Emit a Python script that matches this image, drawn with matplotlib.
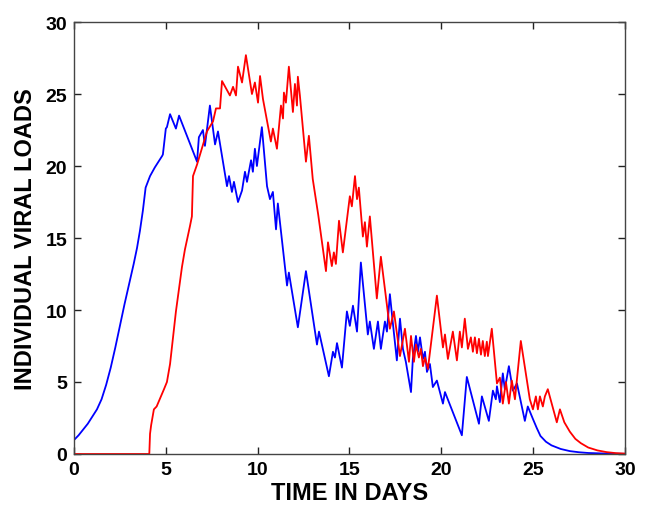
import matplotlib
matplotlib.use("Agg")
import matplotlib.pyplot as plt

# individual viral loads (days, load)
blue_t = [0.0, 0.25, 0.5, 0.75, 1.0, 1.25, 1.5, 1.75, 2.0, 2.25, 2.5, 2.75, 3.0, 3.25,
          3.43, 3.59, 3.75, 3.9, 4.14, 4.4, 4.8,
          4.84, 5.0, 5.06, 5.23, 5.55, 5.72, 6.70, 6.80, 7.02, 7.13, 7.40, 7.68, 7.84,
          8.33, 8.44, 8.60, 8.71, 8.93, 9.15, 9.31, 9.42, 9.64, 9.74, 9.85, 9.96,
          10.23, 10.51, 10.67, 10.83, 11.0, 11.1, 11.6, 11.7, 12.19, 12.63, 13.23,
          13.34, 13.88, 14.1, 14.21, 14.32, 14.59, 14.86, 15.02, 15.19, 15.41, 15.62,
          16.0, 16.11, 16.33, 16.55, 16.71, 16.93, 17.04, 17.2, 17.37, 17.58, 17.75,
          17.91, 18.07, 18.35, 18.45, 18.62, 18.73, 18.84, 19.0, 19.11, 19.22, 19.38,
          19.54, 19.76, 20.09, 20.2, 21.12, 21.39, 22.05, 22.21, 22.59, 22.81, 22.97,
          23.03, 23.19, 23.35, 23.46, 23.68, 23.9, 24.12, 24.55, 24.71, 25.0, 25.2,
          25.4, 25.7, 26.0, 26.5, 27.0, 27.5, 28.0, 29.0, 30.0]
blue_v = [0.97, 1.3, 1.7, 2.1, 2.6, 3.1, 3.8, 4.8, 6.0, 7.4, 8.9, 10.4, 11.8, 13.2,
          14.3, 15.5, 16.9, 18.5, 19.3, 19.9, 20.7,
          20.8, 22.6, 22.7, 23.6, 22.6, 23.5, 20.3, 22.0, 22.5, 21.4, 24.2, 21.5, 22.4,
          18.6, 19.3, 18.2, 18.9, 17.5, 18.3, 19.6, 18.9, 20.4, 19.6, 21.2, 20.0,
          22.7, 18.6, 17.7, 18.2, 15.6, 17.4, 11.7, 12.6, 8.8, 12.7, 7.6,
          8.5, 5.4, 7.1, 6.7, 7.7, 6.0, 9.9, 8.9, 10.3, 8.5, 13.3,
          8.3, 9.2, 7.3, 9.2, 7.3, 9.2, 8.5, 11.1, 9.0, 6.5, 9.4,
          7.3, 6.4, 4.3, 6.6, 8.2, 7.1, 8.1, 6.6, 7.1, 5.7, 6.25,
          4.65, 5.1, 3.5, 4.3, 1.3, 5.35, 2.1, 4.0, 2.3, 4.4, 3.8,
          4.7, 3.6, 5.6, 4.5, 6.1, 4.4, 4.9, 2.3, 3.3, 2.4, 1.8,
          1.25, 0.85, 0.6, 0.35, 0.2, 0.12, 0.07, 0.03, 0.01]

red_t = [0.0, 4.1, 4.14, 4.2, 4.35, 4.5, 4.9, 5.06, 5.23, 5.39, 5.55, 5.88, 6.04,
         6.31, 6.42, 6.48, 6.70, 7.24, 7.57, 7.73, 7.95, 8.06, 8.49, 8.66, 8.82,
         8.93, 9.15, 9.36, 9.69, 9.85, 10.02, 10.13, 10.29, 10.72, 10.83, 11.05,
         11.27, 11.38, 11.43, 11.54, 11.7, 11.92, 12.03, 12.14, 12.19, 12.3, 12.63,
         12.79, 13.0, 13.3, 13.72, 13.83, 14.04, 14.15, 14.26, 14.43, 14.64, 15.02,
         15.13, 15.3, 15.41, 15.51, 15.73, 15.84, 15.95, 16.11, 16.49, 16.71, 17.2,
         17.42, 17.75, 18.02, 18.24, 18.35, 18.51, 18.62, 18.78, 18.89, 19.0, 19.11,
         19.27, 19.76, 20.09, 20.2, 20.36, 20.63, 20.85, 21.01, 21.12, 21.28, 21.45,
         21.61, 21.72, 21.83, 21.94, 22.05, 22.16, 22.26, 22.37, 22.48, 22.54, 22.75,
         23.03, 23.19, 23.35, 23.52, 23.68, 23.84, 24.01, 24.33, 24.82, 24.99, 25.15,
         25.26, 25.37, 25.53, 25.64, 25.8, 26.29, 26.46, 26.7, 27.0, 27.3, 27.6,
         28.0, 28.5, 29.0, 29.5, 30.0]
red_v = [0.0, 0.0, 1.4, 2.0, 3.1, 3.3, 4.5, 5.0, 6.25, 8.1, 9.9, 13.0, 14.2,
         15.8, 16.5, 19.3, 20.1, 22.4, 23.1, 24.0, 24.0, 25.9, 24.9, 25.5, 24.9,
         26.9, 25.8, 27.7, 25.0, 25.8, 24.4, 26.25, 24.65, 21.7, 22.6, 21.2,
         24.2, 23.3, 25.1, 24.4, 26.9, 23.75, 25.7, 24.2, 26.2, 24.9, 20.3,
         22.1, 19.1, 16.6, 12.7, 14.7, 13.05, 14.0, 13.2, 16.2, 14.0, 17.9,
         17.2, 19.3, 17.7, 18.5, 15.1, 16.1, 14.4, 16.5, 10.8, 13.7, 8.7,
         9.9, 6.8, 8.7, 6.4, 8.2, 6.4, 7.6, 6.7, 7.3, 6.1, 6.7,
         5.9, 11.0, 7.4, 8.3, 6.6, 8.5, 6.5, 8.5, 7.4, 9.4, 7.3,
         8.1, 7.1, 8.1, 7.0, 8.0, 6.9, 7.85, 6.8, 7.8, 6.8, 8.7,
         4.9, 5.3, 3.5, 5.0, 3.5, 5.1, 3.8, 7.85, 3.8, 3.1, 4.0,
         3.1, 4.0, 3.3, 4.0, 4.5, 2.2, 3.1, 2.2, 1.55, 1.05, 0.75,
         0.45, 0.25, 0.13, 0.06, 0.03]

xticks = [0, 5, 10, 15, 20, 25, 30]
yticks = [0, 5, 10, 15, 20, 25, 30]

plt.rcParams['font.family'] = ['Liberation Sans', 'DejaVu Sans']

fig = plt.figure(figsize=(6.52, 5.06), dpi=100)
ax = fig.add_axes([0.1135, 0.1008, 0.845, 0.8537])

ax.plot(blue_t, blue_v, color='#0000ff', linewidth=1.3)
ax.plot(red_t, red_v, color='#ff0000', linewidth=1.3)

ax.set_xlim(0, 30)
ax.set_ylim(0, 30)
ax.set_xticks(xticks)
ax.set_yticks(yticks)
ax.tick_params(direction='in', top=True, right=True, length=5, width=1,
               labelsize=14, pad=5, colors='#222222', labelcolor='black')
for lab in ax.get_xticklabels() + ax.get_yticklabels():
    lab.set_fontweight('bold')
for sp in ax.spines.values():
    sp.set_color('#444444')
    sp.set_linewidth(1)

ax.set_xlabel('TIME IN DAYS', fontsize=17, fontweight='bold', labelpad=2)
ax.set_ylabel('INDIVIDUAL VIRAL LOADS', fontsize=17, fontweight='bold', labelpad=6)

fig.savefig('out.png', dpi=100)
